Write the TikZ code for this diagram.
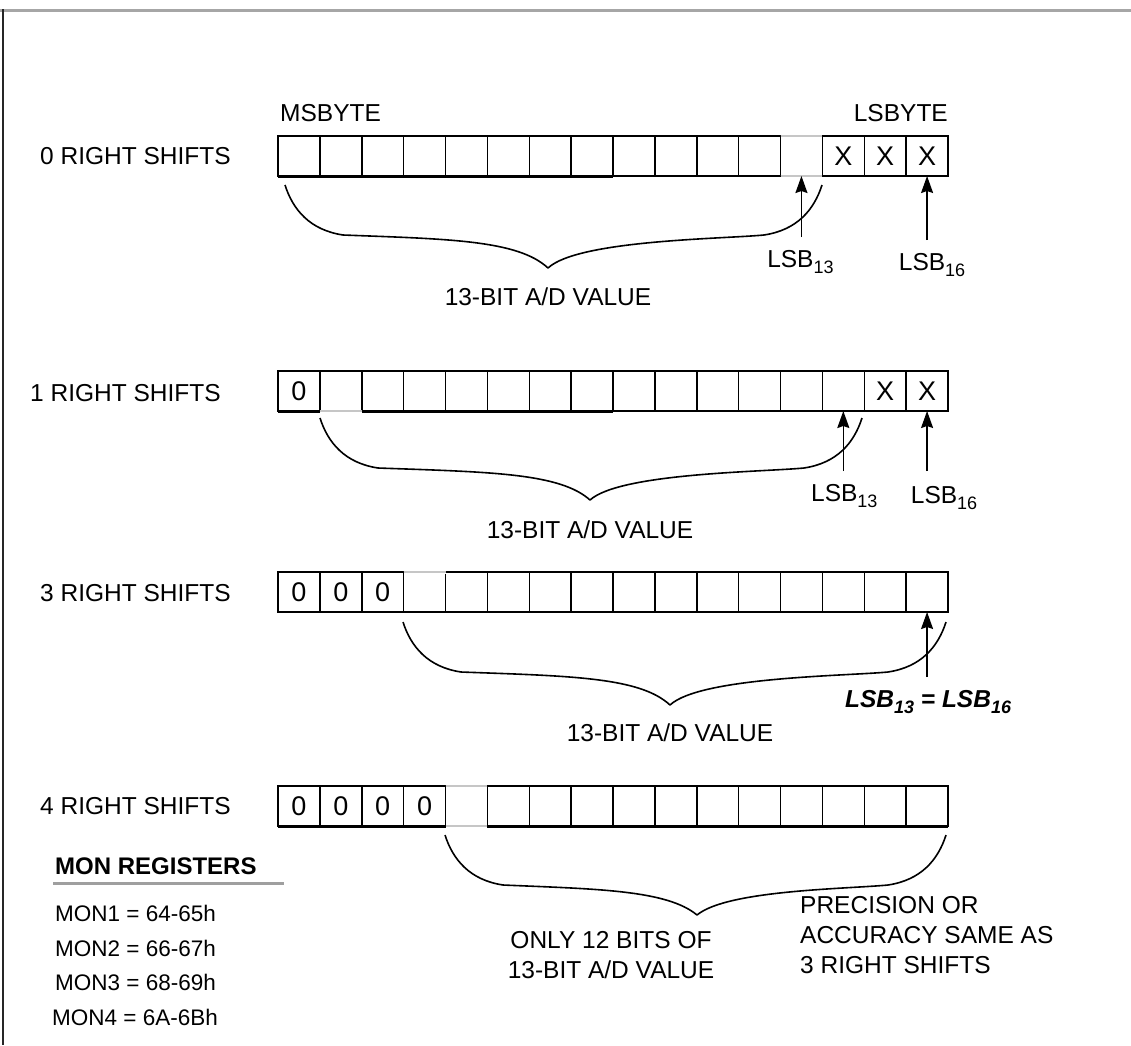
\documentclass[tikz,border=0pt]{standalone}
\usepackage{fontspec}
\setmainfont{Liberation Sans}
\usetikzlibrary{arrows.meta,calc}
\newcommand\lsbsub[1]{\raisebox{-0.28em}{\fontsize{18}{18}\selectfont #1}}
% brace: #1 x-left, #2 x-tip, #3 x-right, #4 y-top(ends), #5 y-tip
\newcommand\regbrace[5]{%
  \draw[brc] (#1,#4) .. controls (#1+8,#4+25) and (#1+25,#4+45) .. (#1+58,#4+50)
    .. controls (#2-100,#4+54) and (#2-30,#4+55) .. (#2,#5)
    .. controls (#2+30,#4+55) and (#3-100,#4+54) .. (#3-58,#4+50)
    .. controls (#3-25,#4+45) and (#3-8,#4+25) .. (#3,#4);}
\begin{document}
\begin{tikzpicture}[x=1pt,y=-1pt,
  txt/.style={font=\fontsize{24.5}{29}\selectfont, inner sep=0pt},
  mon/.style={font=\fontsize{22.5}{26}\selectfont, inner sep=0pt, anchor=west},
  cell/.style={draw=black, line width=1.5pt, minimum width=41.875pt, minimum height=40pt,
    inner sep=0pt, outer sep=0pt},
  celltxt/.style={font=\fontsize{27}{30}\selectfont, inner sep=0pt},
  outline/.style={draw=black, line width=2.2pt},
  brc/.style={draw=black, line width=1.6pt, line join=round},
  up/.style={-{Stealth[length=17pt,width=12pt,inset=2pt]}, line width=1.6pt},
  lite/.style={draw=gray!45, line width=1.4pt},
  wipe/.style={draw=white, line width=3pt},
]
\useasboundingbox (0,0) rectangle (1131,1045);
% frame
\draw[gray!70, line width=3pt] (0,10) -- (1131,10);
\draw[black!85, line width=2pt] (3,9) -- (3,1045);

% registers
\foreach \r/\yc in {0/156,1/391,2/592,3/806}{
  \foreach \i in {1,...,16}{
    \node[cell] (r\r c\i) at ({278+(\i-0.5)*41.875},\yc) {};
  }
  \draw[outline] (r\r c1.north west) rectangle (r\r c16.south east);
}
% lighter segments
\draw[wipe] (r0c13.north west) -- (r0c13.north east);
\draw[lite] (r0c13.north west) -- (r0c13.north east);
\draw[wipe] (r0c13.south west) -- (r0c13.south east);
\draw[lite] (r0c13.south west) -- (r0c13.south east);
\draw[line width=3pt] (r0c1.south west) -- (r0c8.south east);
\draw[wipe] (r1c2.south west) -- (r1c2.south east);
\draw[lite] (r1c2.south west) -- (r1c2.south east);
\draw[line width=3pt] (r1c1.south west) -- (r1c1.south east);
\draw[line width=3pt] (r1c3.south west) -- (r1c8.south east);
\draw[wipe] (r2c4.north west) -- (r2c4.north east);
\draw[lite] (r2c4.north west) -- (r2c4.north east);
\draw[wipe] (r3c5.north west) -- (r3c5.north east);
\draw[lite] (r3c5.north west) -- (r3c5.north east);
\draw[wipe] (r3c5.south west) -- (r3c5.south east);
\draw[lite] (r3c5.south west) -- (r3c5.south east);
\draw[line width=3pt] (r3c1.south west) -- (r3c4.south east);
\draw[line width=3pt] (r3c6.south west) -- (r3c16.south east);

% cell contents
\node[celltxt] (x014) at (r0c14) {X};
\node[celltxt] (x015) at (r0c15) {X};
\node[celltxt] (x016) at (r0c16) {X};
\node[celltxt] (z101) at (r1c1) {0};
\node[celltxt] (x115) at (r1c15) {X};
\node[celltxt] (x116) at (r1c16) {X};
\node[celltxt] (z201) at (r2c1) {0};
\node[celltxt] (z202) at (r2c2) {0};
\node[celltxt] (z203) at (r2c3) {0};
\node[celltxt] (z301) at (r3c1) {0};
\node[celltxt] (z302) at (r3c2) {0};
\node[celltxt] (z303) at (r3c3) {0};
\node[celltxt] (z304) at (r3c4) {0};

% row labels
\node[txt,anchor=west] (n0) at (40,156) {0 RIGHT SHIFTS};
\node[txt,anchor=west] (n1) at (30,393) {1 RIGHT SHIFTS};
\node[txt,anchor=west] (n2) at (40,593) {3 RIGHT SHIFTS};
\node[txt,anchor=west] (n3) at (40,806) {4 RIGHT SHIFTS};

\node[txt,anchor=south west] (msb) at ($(r0c1.north west)+(2,-14)$) {MSBYTE};
\node[txt,anchor=south east] (lsb) at ($(r0c16.north east)+(0,-14)$) {LSBYTE};

% braces
\regbrace{285}{548}{822}{185}{268}
\regbrace{320}{590}{862}{418}{500}
\regbrace{403}{670}{946}{622}{705}
\regbrace{445}{697}{946}{835}{915}

\node[txt] (v0) at (548,297) {13-BIT A/D VALUE};
\node[txt] (v1) at (590,530) {13-BIT A/D VALUE};
\node[txt] (v2) at (670,733) {13-BIT A/D VALUE};
\node[txt,align=center,font=\fontsize{24.5}{30}\selectfont] (v3) at (611,955) {ONLY 12 BITS OF\\13-BIT A/D VALUE};
\node[txt,align=left,anchor=north west,font=\fontsize{24.5}{30}\selectfont] (prec) at (800,896) {PRECISION OR\\ACCURACY SAME AS\\3 RIGHT SHIFTS};

% arrows
\coordinate (t013) at ($(r0c13.south)+(0,61)$);
\draw[up] (t013) -- (r0c13.south);
\node[txt] (l013) at ($(r0c13.south)+(-1,86)$) {LSB\lsbsub{13}};
\coordinate (t016) at ($(r0c16.south)+(0,64)$);
\draw[up] (t016) -- (r0c16.south);
\node[txt] (l016) at ($(r0c16.south)+(5,89)$) {LSB\lsbsub{16}};

\coordinate (t113) at ($(r1c14.south)+(0,60)$);
\draw[up] (t113) -- (r1c14.south);
\node[txt] (l113) at ($(r1c14.south)+(1,85)$) {LSB\lsbsub{13}};
\coordinate (t116) at ($(r1c16.south)+(0,60)$);
\draw[up] (t116) -- (r1c16.south);
\node[txt] (l116) at ($(r1c16.south)+(17,87)$) {LSB\lsbsub{16}};

\coordinate (t216) at ($(r2c16.south)+(0,65)$);
\draw[up] (t216) -- (r2c16.south);
\node[txt,font=\bfseries\itshape\fontsize{24.5}{29}\selectfont] (l216) at ($(r2c16.south)+(1,90)$) {LSB\lsbsub{13} = LSB\lsbsub{16}};

% MON registers
\node[mon,font=\bfseries\fontsize{24}{28}\selectfont] (monh) at (55,866) {MON REGISTERS};
\draw[gray!75, line width=3pt] (53,883) -- (284,883);
\node[mon] (m1) at (55,913) {MON1 = 64-65h};
\node[mon] (m2) at (55,948) {MON2 = 66-67h};
\node[mon] (m3) at (55,982) {MON3 = 68-69h};
\node[mon] (m4) at (52,1017) {MON4 = 6A-6Bh};
\end{tikzpicture}
\end{document}
